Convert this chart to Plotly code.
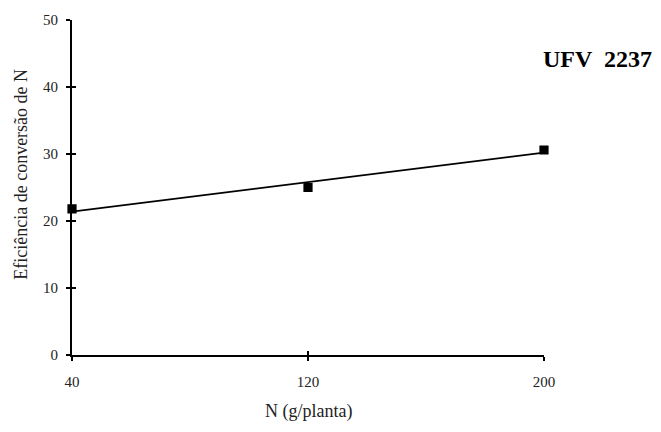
import numpy as np
import plotly.graph_objects as go

# N dose (g/planta) and observed conversion efficiency
n_dose = [40, 120, 200]
eficiencia = [21.8, 25.0, 30.6]
x_ticks = [40, 120, 200]
y_ticks = [0, 10, 20, 30, 40, 50]

# linear trend through the observations
coef = np.polyfit(n_dose, eficiencia, 1)
trend_x = [n_dose[0], n_dose[-1]]
trend_y = list(np.polyval(coef, trend_x))

serif = "Liberation Serif, Times New Roman, serif"

fig = go.Figure()
fig.add_trace(go.Scatter(x=trend_x, y=trend_y, mode="lines",
                         line=dict(color="black", width=1.8),
                         showlegend=False, hoverinfo="skip"))
fig.add_trace(go.Scatter(x=n_dose, y=eficiencia, mode="markers",
                         cliponaxis=False,
                         marker=dict(symbol="square", size=8, color="black",
                                     line=dict(color="black", width=1.2)),
                         showlegend=False))
# twin axes carrying the inward half of the crossing ticks
fig.add_trace(go.Scatter(x=[None], y=[None], xaxis="x2", yaxis="y2",
                         showlegend=False, hoverinfo="skip"))

tick_style = dict(showgrid=False, zeroline=False, tickcolor="black",
                  tickwidth=1.6, ticklen=4)

fig.update_layout(
    width=661, height=432,
    margin=dict(l=72, r=117, t=16, b=77),
    plot_bgcolor="white", paper_bgcolor="white",
    font=dict(family=serif, color="#222", size=15),
    xaxis=dict(range=[40, 200], tickvals=x_ticks, ticks="outside",
               showline=True, linecolor="black", linewidth=1.8,
               ticklabelstandoff=8, tickfont=dict(size=15), **tick_style),
    yaxis=dict(range=[0, 50], tickvals=y_ticks, ticks="outside",
               showline=True, linecolor="black", linewidth=1.8,
               ticklabelstandoff=5, tickfont=dict(size=15), **tick_style),
    xaxis2=dict(range=[40, 200], tickvals=x_ticks, ticks="inside",
                showticklabels=False, showline=False, overlaying="x",
                anchor="y2", side="bottom", **tick_style),
    yaxis2=dict(range=[0, 50], tickvals=y_ticks, ticks="inside",
                showticklabels=False, showline=False, overlaying="y",
                anchor="x2", side="left", **tick_style),
    annotations=[
        dict(text="N (g/planta)", xref="paper", yref="paper", x=0.5, y=-0.17,
             yanchor="middle", showarrow=False,
             font=dict(size=18, family=serif, color="#222")),
        dict(text="Eficiência de conversão de N", xref="paper", yref="paper",
             x=-0.108, y=0.538, textangle=-90, showarrow=False,
             xanchor="center", yanchor="middle",
             font=dict(size=18, family=serif, color="#222")),
        dict(text="<b>UFV  2237</b>", xref="paper", yref="paper", x=1.113, y=0.885,
             showarrow=False, xanchor="center", yanchor="middle",
             font=dict(size=24, family=serif, color="black")),
    ],
)

fig.write_html("out.html")
